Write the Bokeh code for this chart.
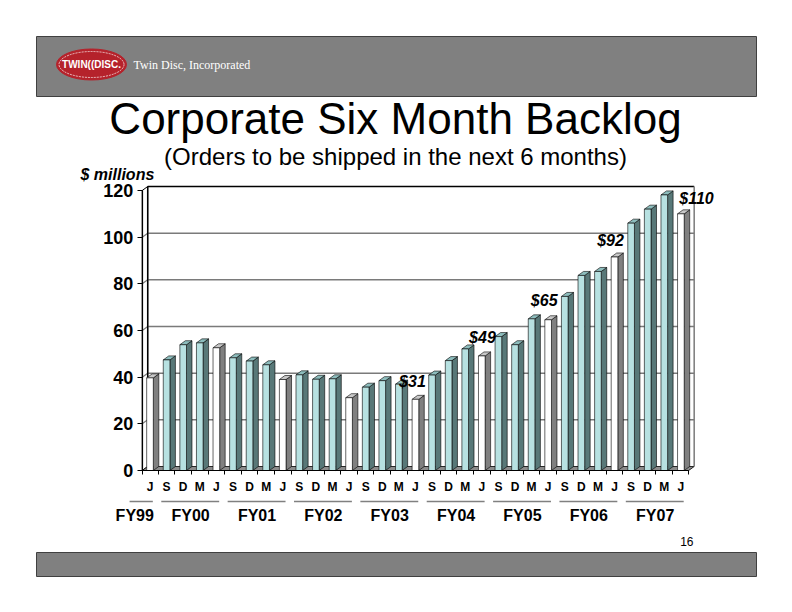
from bokeh.plotting import figure
from bokeh.models import Range1d, LinearAxis, FixedTicker, Label, ColumnDataSource
from bokeh.embed import file_html
from bokeh.resources import INLINE
from bokeh.core.properties import value

# ---------------- data ----------------
quarters = ["J",
            "S", "D", "M", "J",
            "S", "D", "M", "J",
            "S", "D", "M", "J",
            "S", "D", "M", "J",
            "S", "D", "M", "J",
            "S", "D", "M", "J",
            "S", "D", "M", "J",
            "S", "D", "M", "J"]
backlog = [39.7,
           47.4, 53.9, 54.7, 52.6,
           48.3, 46.9, 45.3, 39.0,
           41.0, 39.1, 39.3, 31.2,
           35.7, 38.5, 37.0, 30.5,
           40.9, 47.1, 52.1, 49.1,
           57.4, 53.9, 65.0, 64.6,
           74.6, 83.6, 85.3, 91.5,
           106.0, 112.0, 118.1, 110.0]
fiscal_years = ["FY99", "FY00", "FY01", "FY02", "FY03", "FY04", "FY05", "FY06", "FY07"]
fy_first = [0, 1, 5, 9, 13, 17, 21, 25, 29]
fy_last = [0, 4, 8, 12, 16, 20, 24, 28, 32]
callout_text = ["$31", "$49", "$65", "$92", "$110"]
callout_bar = [16, 20, 24, 28, 32]
y_ticks = [0, 20, 40, 60, 80, 100, 120]

# ---------------- layout ----------------
W, H = 776, 596
M = 0
X0, KX = 149.5, 16.59          # screen x of bar 0, px per bar
Y0, KY = 470.0, 280.0 / 120.0  # screen y of value 0, px per unit


def dx_(sx):
    return (sx - X0) / KX


def dy_(sy):
    return (Y0 - sy) / KY


FONT = "Liberation Sans"
HALF = 0.2
DX = 5.5 / KX
DY = 4.0 / KY
XL, XR = -0.47, 32.47
YMAX = 120
callout_dx = [-0.18, 0.04, -0.24, -0.24, 0.94]
callout_dy = [7.7, 7.7, 8.3, 6.9, 6.7]

p = figure(width=W, height=H,
           x_range=Range1d(dx_(M), dx_(M + W)),
           y_range=Range1d(dy_(M + H), dy_(M)),
           output_backend="svg", toolbar_location=None,
           min_border=0, x_axis_type=None, y_axis_type=None)
p.outline_line_color = None
p.background_fill_color = "white"
p.border_fill_color = "white"

# header / footer bands
p.quad(left=dx_(36), right=dx_(756), top=dy_(36), bottom=dy_(96),
       fill_color="#808080", line_color="#404040", line_width=1)
p.quad(left=dx_(36), right=dx_(756), top=dy_(552), bottom=dy_(576),
       fill_color="#808080", line_color="#404040", line_width=1)

# logo
p.ellipse(x=dx_(91), y=dy_(64), width=70, height=31, width_units="screen",
          height_units="screen", fill_color="#B5222B", line_color="#B5222B")
p.ellipse(x=dx_(91), y=dy_(64), width=65, height=26, width_units="screen",
          height_units="screen", fill_color=None, line_color="white",
          line_width=0.7, line_dash="2 1")
p.add_layout(Label(x=dx_(91), y=dy_(64), text="TWIN((DISC.", text_align="center",
                   text_baseline="middle", text_font=FONT,
                   text_font_style="bold", text_font_size="10px", text_color="white"))
p.add_layout(Label(x=dx_(133), y=dy_(64), text="Twin Disc, Incorporated", text_align="left",
                   text_baseline="middle", text_font="Liberation Serif",
                   text_font_size="12px", text_color="white"))

# titles
p.add_layout(Label(x=dx_(395), y=dy_(118), text="Corporate Six Month Backlog",
                   text_align="center", text_baseline="middle", text_font=FONT,
                   text_font_size="44px", text_color="black"))
p.add_layout(Label(x=dx_(395), y=dy_(156), text="(Orders to be shipped in the next 6 months)",
                   text_align="center", text_baseline="middle", text_font=FONT,
                   text_font_size="24px", text_color="black"))
p.add_layout(Label(x=dx_(80), y=dy_(174), text="$ millions", text_align="left",
                   text_baseline="middle", text_font=FONT, text_font_style="bold italic",
                   text_font_size="16px", text_color="black"))
p.add_layout(Label(x=dx_(693), y=dy_(541), text="16", text_align="right",
                   text_baseline="middle", text_font=FONT, text_font_size="12px",
                   text_color="black"))

# walls and floor
p.quad(left=XL + DX, right=XR + DX, bottom=DY, top=YMAX + DY,
       fill_color="white", line_color=None)
p.patch([XL, XL + DX, XL + DX, XL], [0, DY, YMAX + DY, YMAX],
        fill_color="white", line_color="black", line_width=1)
p.patch([XL, XR, XR + DX, XL + DX], [0, 0, DY, DY],
        fill_color="#8C8C8C", line_color="black", line_width=0.8)
grid_vals = [t for t in y_ticks if 0 < t < YMAX]
p.segment(x0=[XL + DX] * len(grid_vals), y0=[g + DY for g in grid_vals],
          x1=[XR + DX] * len(grid_vals), y1=[g + DY for g in grid_vals],
          line_color="#7A7A7A", line_width=1.5)
p.segment(x0=[XL] * len(grid_vals), y0=grid_vals,
          x1=[XL + DX] * len(grid_vals), y1=[g + DY for g in grid_vals],
          line_color="#7A7A7A", line_width=1.2)
p.segment(x0=[XL + DX, XL + DX, XR + DX], y0=[YMAX + DY, DY, DY],
          x1=[XR + DX, XL + DX, XR + DX], y1=[YMAX + DY, YMAX + DY, YMAX + DY],
          line_color=["black", "black", "#7A7A7A"], line_width=1.5)

# bars
n = len(backlog)
idx = list(range(n))
is_ye = [q == "J" for q in quarters]
front_col = ["#FFFFFF" if y else "#B7E1E1" for y in is_ye]
side_col = ["#808080" if y else "#587878" for y in is_ye]
top_col = ["#C8C8C8" if y else "#8DBDBD" for y in is_ye]

side_xs, side_ys, top_xs, top_ys = [], [], [], []
for i, v in zip(idx, backlog):
    r = i + HALF
    l = i - HALF
    side_xs.append([r, r + DX, r + DX, r])
    side_ys.append([0, DY, v + DY, v])
    top_xs.append([l, r, r + DX, l + DX])
    top_ys.append([v, v, v + DY, v + DY])

src = ColumnDataSource(dict(
    left=[i - HALF for i in idx], right=[i + HALF for i in idx],
    top=backlog, bottom=[0] * n,
    side_xs=side_xs, side_ys=side_ys, top_xs=top_xs, top_ys=top_ys,
    front=front_col, side=side_col, topc=top_col))
p.patches("side_xs", "side_ys", source=src, fill_color="side",
          line_color="black", line_width=0.6)
p.patches("top_xs", "top_ys", source=src, fill_color="topc",
          line_color="black", line_width=0.6)
p.quad(left="left", right="right", top="top", bottom="bottom", source=src,
       fill_color="front", line_color="black", line_width=0.6)

# callouts
csrc = ColumnDataSource(dict(
    x=[b + o for b, o in zip(callout_bar, callout_dx)],
    y=[backlog[b] + o for b, o in zip(callout_bar, callout_dy)],
    text=callout_text))
p.text(x="x", y="y", text="text", source=csrc, text_align="center",
       text_baseline="middle", text_font=value(FONT), text_font_style="bold italic",
       text_font_size="16px", text_color="black")

# y axis
yaxis = LinearAxis(ticker=FixedTicker(ticks=y_ticks), fixed_location=XL, bounds=(0, YMAX),
                   major_tick_out=5, major_tick_in=0, minor_tick_out=0, minor_tick_in=0,
                   axis_line_color="black", axis_line_width=1.2,
                   major_tick_line_color="black", major_label_standoff=4,
                   major_label_text_font=FONT, major_label_text_font_style="bold",
                   major_label_text_font_size="18px", major_label_text_color="black")
p.add_layout(yaxis, "left")

# x axis: month letters
bounds_ticks = [XL] + [i + 0.5 for i in idx[:-1]] + [XR]
xaxis = LinearAxis(ticker=FixedTicker(ticks=idx, minor_ticks=bounds_ticks),
                   fixed_location=0, bounds=(XL, XR),
                   major_tick_out=0, major_tick_in=0, minor_tick_out=4, minor_tick_in=0,
                   axis_line_color="black", axis_line_width=1.2,
                   minor_tick_line_color="black", major_label_standoff=5,
                   major_label_overrides={i: q for i, q in zip(idx, quarters)},
                   major_label_text_font=FONT, major_label_text_font_style="bold",
                   major_label_text_font_size="12px", major_label_text_color="black")
p.add_layout(xaxis, "below")

# fiscal year group rules and labels
fy_start = [f - 0.32 for f in fy_first]
fy_start[0] = fy_first[0] - 1.23
fy_end = [l + 0.17 for l in fy_last]
rule_y = dy_(501)
p.segment(x0=fy_start, y0=[rule_y] * len(fy_start), x1=fy_end, y1=[rule_y] * len(fy_end),
          line_color="#808080", line_width=1.5)
fy_centers = [(f + l) / 2 - 0.05 for f, l in zip(fy_first, fy_last)]
fy_centers[0] = fy_first[0] - 0.92
fyaxis = LinearAxis(ticker=FixedTicker(ticks=fy_centers), fixed_location=rule_y,
                    axis_line_color=None, major_tick_line_color=None, minor_tick_line_color=None,
                    major_tick_out=0, major_tick_in=0, minor_tick_out=0, minor_tick_in=0,
                    major_label_standoff=5,
                    major_label_overrides={c: t for c, t in zip(fy_centers, fiscal_years)},
                    major_label_text_font=FONT, major_label_text_font_style="bold",
                    major_label_text_font_size="16px", major_label_text_color="black")
p.add_layout(fyaxis, "below")

open("out.html", "w").write(file_html(p, INLINE))
